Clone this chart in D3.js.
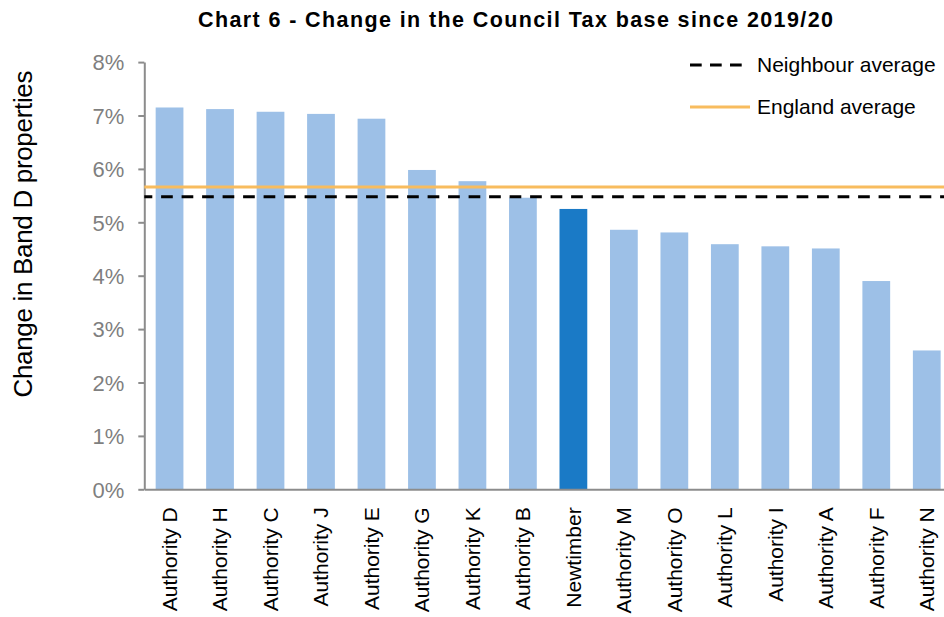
<!DOCTYPE html>
<html><head><meta charset="utf-8">
<script src="https://cdn.jsdelivr.net/npm/d3@7"></script>
<style>body{margin:0;background:#fff}svg{display:block;font-family:"Liberation Sans",Arial,sans-serif}</style>
</head><body>
<svg id="c" width="944" height="617"></svg>
<script>
const categories = ["Authority D","Authority H","Authority C","Authority J","Authority E","Authority G","Authority K","Authority B","Newtimber","Authority M","Authority O","Authority L","Authority I","Authority A","Authority F","Authority N"];
const values = [7.15,7.12,7.07,7.03,6.94,5.98,5.77,5.46,5.25,4.86,4.81,4.59,4.55,4.51,3.90,2.60];
const highlight = "Newtimber";
const neighbourAvg = 5.48;
const englandAvg = 5.66;
const yTicks = [0,1,2,3,4,5,6,7,8];
const title = "Chart 6 - Change in the Council Tax base since 2019/20";
const yLabel = "Change in Band D properties";
const legendItems = ["Neighbour average","England average"];

const svg = d3.select("#c");
const mLeft = 144.3, mRight = 952, mTop = 62.1, mBottom = 489.3;
const x = d3.scaleBand().domain(categories).range([mLeft,mRight]).paddingInner(0.45).paddingOuter(0.225);
const y = d3.scaleLinear().domain([0,8]).range([mBottom,mTop]);

// bars
svg.append("g").selectAll("rect").data(values).join("rect")
  .attr("x",(d,i)=>x(categories[i]))
  .attr("width",x.bandwidth())
  .attr("y",d=>y(d))
  .attr("height",d=>y(0)-y(d))
  .attr("fill",(d,i)=>categories[i]===highlight?"#1A7AC6":"#9DC0E7");

// y axis
const ya = svg.append("g").attr("transform",`translate(${mLeft},0)`)
  .call(d3.axisLeft(y).tickValues(yTicks).tickFormat(d=>d+"%").tickSize(6).tickSizeOuter(0));
ya.select(".domain").attr("stroke","#8c8c8c").attr("stroke-width",2);
ya.selectAll(".tick line").attr("stroke","#8c8c8c").attr("stroke-width",2);
ya.selectAll(".tick text").attr("fill","#7f7f7f").attr("font-size",22).attr("x",-20).attr("dy","0.35em");

// x axis
const xa = svg.append("g").attr("transform",`translate(0,${mBottom})`)
  .call(d3.axisBottom(x).tickSize(0).tickSizeOuter(0));
xa.select(".domain").attr("stroke","#8c8c8c").attr("stroke-width",2);
xa.selectAll(".tick text").attr("fill","#000").attr("font-size",21)
  .attr("transform","rotate(-90)").attr("text-anchor","end").attr("x",-18).attr("y",0).attr("dy","0.35em");

// reference lines
svg.append("line").attr("x1",mLeft).attr("x2",944).attr("y1",y(englandAvg)).attr("y2",y(englandAvg))
  .attr("stroke","#F8BC5E").attr("stroke-width",3);
svg.append("line").attr("x1",mLeft).attr("x2",944).attr("y1",y(neighbourAvg)).attr("y2",y(neighbourAvg))
  .attr("stroke","#000").attr("stroke-width",3).attr("stroke-dasharray","11.7,8.8").attr("stroke-dashoffset",3.7);

// title
svg.append("text").attr("x",515.5).attr("y",27).attr("text-anchor","middle")
  .attr("font-weight","bold").attr("font-size",21.5)
  .attr("textLength",635).attr("lengthAdjust","spacing").text(title);

// y label
svg.append("text").attr("transform",`translate(32,234) rotate(-90)`).attr("text-anchor","middle")
  .attr("font-size",26).attr("fill","#000")
  .attr("textLength",327).attr("lengthAdjust","spacing").text(yLabel);

// legend
const lg = svg.append("g");
lg.append("line").attr("x1",690).attr("x2",742).attr("y1",65).attr("y2",65)
  .attr("stroke","#000").attr("stroke-width",3).attr("stroke-dasharray","11.7,8.3");
lg.append("text").attr("x",757).attr("y",72.3).attr("font-size",21).text(legendItems[0]);
lg.append("line").attr("x1",690).attr("x2",750).attr("y1",107).attr("y2",107)
  .attr("stroke","#F8BC5E").attr("stroke-width",3);
lg.append("text").attr("x",757).attr("y",114).attr("font-size",21).text(legendItems[1]);
</script>
</body></html>
